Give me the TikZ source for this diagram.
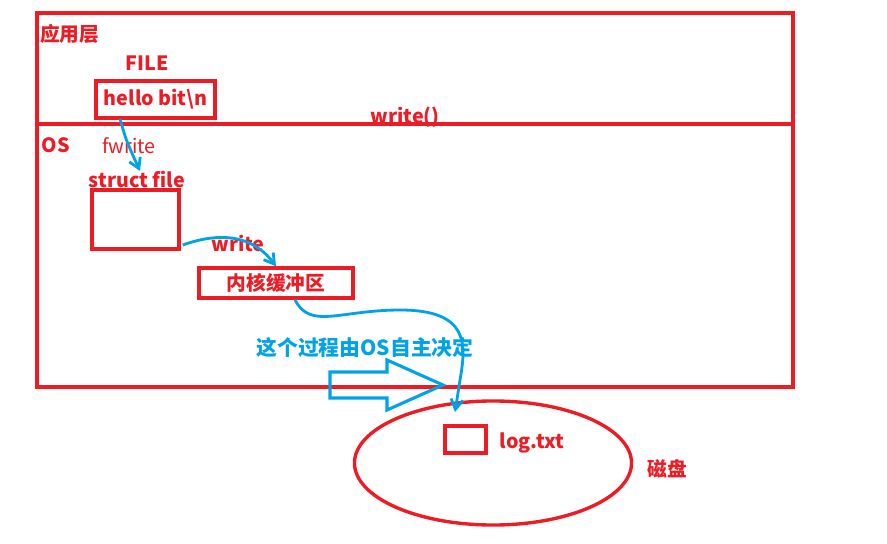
\documentclass[tikz,border=0pt]{standalone}
\usepackage{fontspec}
\setmainfont{Noto Sans CJK SC}
\usetikzlibrary{arrows.meta,shapes.geometric}
\definecolor{paintred}{RGB}{237,28,36}
\definecolor{paintblue}{RGB}{0,162,232}

\begin{document}
\begin{tikzpicture}[x=0.025cm, y=-0.025cm]
	\tikzstyle{comp} = [
		rectangle, draw=paintred, line width=2.4pt, inner sep=0pt
	]
	\tikzstyle{caption} = [
		text=paintred, inner sep=0pt, font=\bfseries\fontsize{14}{16}\selectfont
	]
	\tikzstyle{note} = [
		text=paintred, inner sep=0pt, font=\fontsize{14}{16}\selectfont
	]
	\tikzstyle{conn} = [
		draw=paintblue, line width=2pt, -{Straight Barb[length=2.5mm, width=3mm]}
	]

	\useasboundingbox (0,0) rectangle (887,544);

	% Layers
	\node (App) [comp, minimum width=18.9cm, minimum height=2.775cm] at (415,68.5) {}
		node [caption, anchor=west] at (40,34) {应用层}
		node [caption] at (405,117) {write()}
	;
	\node (OS) [comp, minimum width=18.9cm, minimum height=6.575cm] at (415,255.5) {}
		node [caption] at (56,145) {OS}
	;

	% FILE
	\node (FILE) [caption] at (147,63) {FILE};
	\node (Hello) [comp, minimum width=2.975cm, minimum height=0.925cm, caption] at (155.5,99.5) {hello bit\textbackslash n};

	% struct file
	\node (Fwrite) [note] at (129,146) {fwrite};
	\node (StructCap) [caption] at (137,179) {struct file};
	\node (Struct) [comp, minimum width=2.175cm, minimum height=1.475cm] at (135.5,219.5) {};

	% Kernel buffer
	\node (WriteCap) [caption] at (238,243) {write};
	\node (Buffer) [comp, minimum width=3.85cm, minimum height=0.75cm, caption] at (276,283) {内核缓冲区};

	% Disk
	\node (Disk) [ellipse, draw=paintred, line width=2.4pt, minimum width=6.925cm, minimum height=3.1cm, inner sep=0pt] at (493,463) {};
	\node (Log) [comp, minimum width=1.025cm, minimum height=0.675cm] at (465.5,439.5) {};
	\node (LogCap) [caption] at (532,443) {log.txt};
	\node (DiskCap) [caption] at (667,469) {磁盘};

	% OS decides
	\node (Flush) [text=paintblue, inner sep=0pt, font=\bfseries\fontsize{14.8}{18}\selectfont] at (365,347) {这个过程由OS自主决定};
	\draw[paintblue, line width=2.2pt, line join=miter] (330,372) -- (387,372) -- (387,360) -- (443,385) -- (387,410) -- (387,398) -- (330,398) -- cycle;

	% Connections
	\coordinate (h1) at (120,119);
	\coordinate (h2) at (140,171);
	\draw[conn] (h1) .. controls (126,140) .. (h2);

	\coordinate[xshift=0.05cm] (h3) at (Struct.east |- 0,245);
	\draw[conn] (h3) .. controls (225,230) and (255,238) .. (Buffer.north);

	\coordinate (h4) at (Buffer.south -| 295,0);
	\coordinate (h5) at (455,412);
	\draw[conn] (h4) .. controls (310,330) and (340,310) .. (400,310)
		.. controls (470,310) and (466,345) .. (460,380) -- (h5);
\end{tikzpicture}
\end{document}
